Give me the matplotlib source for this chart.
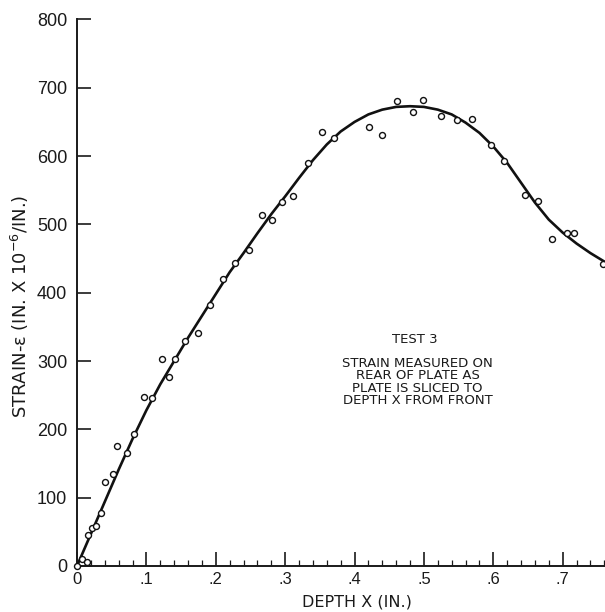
import matplotlib
matplotlib.use('Agg')
import matplotlib.pyplot as plt
from matplotlib.ticker import MultipleLocator, FixedLocator

# measured points (depth in inches, strain in 1e-6 in/in)
depth = [0.0, 0.007, 0.014, 0.016, 0.021, 0.028, 0.035, 0.040, 0.052, 0.058,
         0.072, 0.082, 0.097, 0.108, 0.122, 0.133, 0.141, 0.156, 0.175, 0.191,
         0.210, 0.228, 0.248, 0.266, 0.281, 0.295, 0.312, 0.333, 0.353, 0.370,
         0.421, 0.439, 0.461, 0.484, 0.499, 0.525, 0.547, 0.569, 0.597, 0.615,
         0.646, 0.664, 0.684, 0.706, 0.716, 0.758]
strain = [0, 10, 6, 45, 55, 58, 78, 123, 135, 175,
          166, 193, 247, 246, 303, 277, 303, 329, 341, 382,
          420, 444, 463, 514, 507, 533, 542, 590, 635, 627,
          642, 631, 680, 665, 682, 658, 653, 654, 616, 593,
          543, 534, 478, 488, 488, 442]

# faired curve
curve_x = [0.00, 0.02, 0.04, 0.06, 0.08, 0.10, 0.12, 0.14, 0.16, 0.18,
           0.20, 0.22, 0.24, 0.26, 0.28, 0.30, 0.32, 0.34, 0.36, 0.38,
           0.40, 0.42, 0.44, 0.46, 0.48, 0.50, 0.52, 0.54, 0.56, 0.58,
           0.60, 0.62, 0.64, 0.66, 0.68, 0.70, 0.72, 0.74, 0.761]
curve_y = [0, 47, 94, 141, 186, 228, 266, 300, 334, 366,
           398, 430, 458, 487, 515, 541, 568, 594, 617, 636,
           650, 661, 668, 672, 673, 672, 668, 661, 649, 634,
           614, 590, 561, 532, 507, 488, 472, 458, 445]

xticks = [0, 0.1, 0.2, 0.3, 0.4, 0.5, 0.6, 0.7]
xticklabels = ['0', '.1', '.2', '.3', '.4', '.5', '.6', '.7']
yticks = [0, 100, 200, 300, 400, 500, 600, 700, 800]

note_title = 'TEST 3'
note_lines = ['STRAIN MEASURED ON', 'REAR OF PLATE AS',
              'PLATE IS SLICED TO', 'DEPTH X FROM FRONT']

plt.rcParams['font.family'] = ['Liberation Sans', 'DejaVu Sans']

fig = plt.figure(figsize=(6.05, 6.12), dpi=100)
ax = fig.add_axes([0.1273, 0.0752, 1 - 0.1273, 0.8930])

ax.plot(curve_x, curve_y, color='#111111', lw=1.9, zorder=3)
ax.plot(depth, strain, 'o', mfc='white', mec='#111111', mew=1.0, ms=4.3,
        zorder=4, clip_on=False)

ax.set_xlim(0, 0.761)
ax.set_ylim(0, 800)
ax.spines['top'].set_visible(False)
ax.spines['right'].set_visible(False)
for s in ('left', 'bottom'):
    ax.spines[s].set_linewidth(1.4)
    ax.spines[s].set_color('#1a1a1a')

ax.xaxis.set_major_locator(FixedLocator(xticks))
ax.set_xticklabels(xticklabels)
ax.xaxis.set_minor_locator(MultipleLocator(0.02))
ax.yaxis.set_major_locator(FixedLocator(yticks))
ax.tick_params(axis='x', which='major', direction='in', length=10, width=1.2,
               labelsize=12, pad=4, colors='#1a1a1a')
ax.tick_params(axis='x', which='minor', direction='in', length=4, width=0.9,
               colors='#1a1a1a')
ax.tick_params(axis='y', which='major', direction='in', length=10, width=1.2,
               labelsize=13, pad=7, colors='#1a1a1a')

fig.text(0.5895, 0.0163, 'DEPTH X (IN.)', ha='center', va='center',
         fontsize=11.5, family=['Liberation Sans Narrow', 'DejaVu Sans'],
         color='#1a1a1a')
fig.text(0.033, 0.5, 'STRAIN-\u03b5 (IN. X 10$^{-6}$/IN.)', ha='center',
         va='center', rotation=90, fontsize=13,
         family=['Liberation Sans Narrow', 'DejaVu Sans'], color='#1a1a1a')

ax.text(0.487, 331, note_title, ha='center', va='center', fontsize=9.5,
        family='DejaVu Sans', color='#1a1a1a')
for i, line in enumerate(note_lines):
    ax.text(0.491, 297 - i * 18.3, line, ha='center', va='center',
            fontsize=9.5, family='DejaVu Sans', color='#1a1a1a')

fig.savefig('out.png', dpi=100, facecolor='white')
